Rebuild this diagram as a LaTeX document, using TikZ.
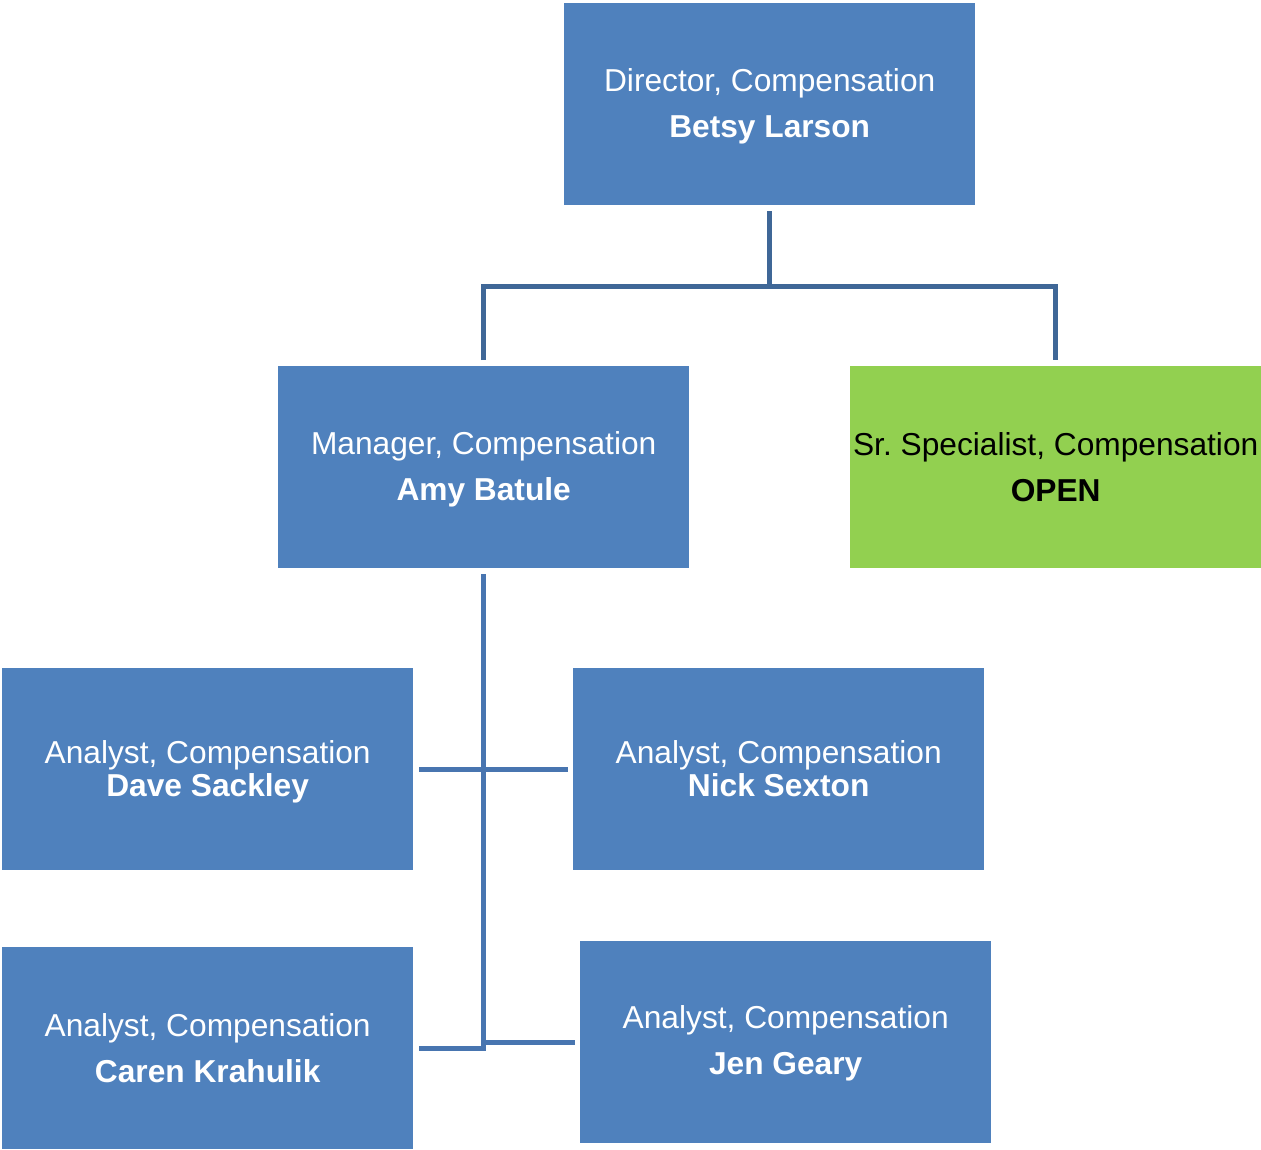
\documentclass[tikz,border=0pt]{standalone}
\usepackage{fontspec}
\setmainfont{Liberation Sans}
\usetikzlibrary{calc}
\definecolor{boxblue}{HTML}{4F81BD}
\definecolor{boxgreen}{HTML}{92D050}
\definecolor{topline}{HTML}{3F6797}
\definecolor{lowline}{HTML}{4875B0}
\tikzset{
  orgbox/.style={rectangle, anchor=north west, minimum width=411pt, minimum height=202pt,
    inner sep=0pt, fill=boxblue},
  openbox/.style={orgbox, fill=boxgreen},
  boxtext/.style={inner sep=0pt, align=center, text=white,
    font=\fontsize{31.7}{46}\selectfont\frenchspacing},
  tighttext/.style={boxtext, font=\fontsize{31.7}{33}\selectfont\frenchspacing},
  opentext/.style={boxtext, text=black},
  topconn/.style={draw=topline, line width=5pt},
  lowconn/.style={draw=lowline, line width=5pt}
}
\begin{document}
\begin{tikzpicture}[x=1pt,y=-1pt]
\useasboundingbox (0,0) rectangle (1261,1149);
\node[orgbox] (dir) at (564,3) {};
\node[orgbox] (mgr) at (278,366) {};
\node[openbox] (spec) at (850,366) {};
\node[orgbox] (dave) at (2,668) {};
\node[orgbox] (nick) at (573,668) {};
\node[orgbox] (caren) at (2,947) {};
\node[orgbox] (jen) at (580,941) {};
\node[boxtext] (dirt) at ([yshift=-2pt]dir.center) {Director, Compensation\\\textbf{Betsy Larson\vphantom{y}}};
\node[boxtext] (mgrt) at ([yshift=-2pt]mgr.center) {Manager, Compensation\\\textbf{Amy Batule\vphantom{y}}};
\node[opentext] (spect) at ([yshift=-3pt]spec.center) {Sr. Specialist, Compensation\\\textbf{OPEN\vphantom{y}}};
\node[tighttext] (davet) at ([yshift=-3pt]dave.center) {Analyst, Compensation\\\textbf{Dave Sackley\vphantom{y}}};
\node[tighttext] (nickt) at ([yshift=-3pt]nick.center) {Analyst, Compensation\\\textbf{Nick Sexton\vphantom{y}}};
\node[boxtext] (carent) at ([yshift=-3pt]caren.center) {Analyst, Compensation\\\textbf{Caren Krahulik\vphantom{y}}};
\node[boxtext] (jent) at ([yshift=-1pt]jen.center) {Analyst, Compensation\\\textbf{Jen Geary\vphantom{y}}};
\coordinate (j1) at ($(dir.south)+(0,81)$);
\draw[topconn] ([yshift=-6pt]dir.south) -- (j1);
\draw[topconn] ([yshift=6pt]mgr.north) -- (mgr.north |- j1) -- (spec.north |- j1) -- ([yshift=6pt]spec.north);
\draw[lowconn] ([yshift=-6pt]mgr.south) -- (mgr.south |- caren.east) -- ([xshift=6pt]caren.east);
\draw[lowconn] ([xshift=6pt]dave.east) -- ([xshift=-5pt]nick.west);
\draw[lowconn] (mgr.south |- jen.west) -- ([xshift=-5pt]jen.west);
\end{tikzpicture}
\end{document}
